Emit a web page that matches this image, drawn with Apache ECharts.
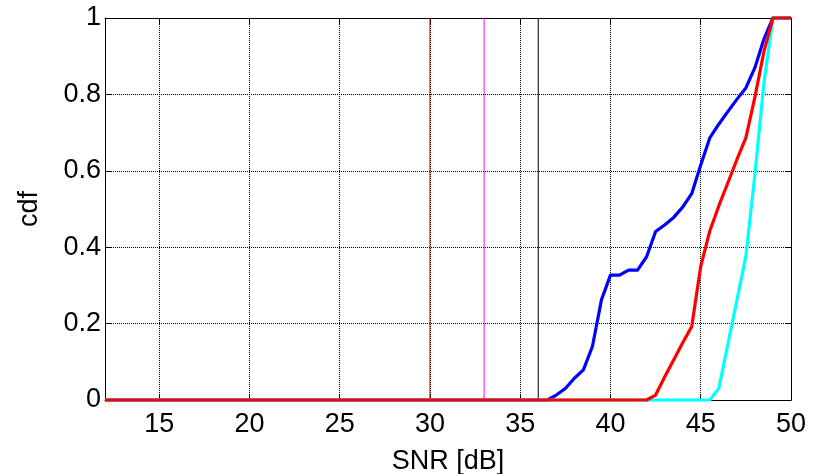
<!DOCTYPE html>
<html>
<head>
<meta charset="utf-8">
<script src="https://cdn.jsdelivr.net/npm/echarts@6/dist/echarts.min.js"></script>
<style>
  html, body { margin: 0; padding: 0; background: #fff; }
  #chart { width: 821px; height: 474px; }
</style>
</head>
<body>
<div id="chart"></div>
<script>
// Axis ticks
const xTicks = [15, 20, 25, 30, 35, 40, 45, 50];
const yTicks = [0, 0.2, 0.4, 0.6, 0.8, 1];

// Empirical CDF of SNR, blue curve
const snrBlue = [12, 36.5, 37, 37.5, 38, 38.5, 39, 39.5, 40, 40.5, 41, 41.5, 42, 42.5, 43, 43.5, 44, 44.5, 45, 45.5, 46, 46.5, 47, 47.5, 48, 48.5, 49, 50];
const cdfBlue = [0, 0, 0.013, 0.03, 0.057, 0.079, 0.14, 0.262, 0.327, 0.327, 0.34, 0.34, 0.375, 0.441, 0.458, 0.478, 0.505, 0.54, 0.615, 0.686, 0.722, 0.755, 0.787, 0.817, 0.87, 0.945, 1, 1];

// Cyan curve
const snrCyan = [12, 45.5, 46, 46.5, 47, 47.5, 48, 48.5, 49, 50];
const cdfCyan = [0, 0, 0.03, 0.145, 0.26, 0.376, 0.59, 0.83, 1, 1];

// Red curve
const snrRed = [12, 42, 42.5, 43, 43.5, 44, 44.5, 45, 45.5, 46, 46.5, 47, 47.5, 48, 48.5, 49, 50];
const cdfRed = [0, 0, 0.013, 0.06, 0.105, 0.15, 0.192, 0.35, 0.442, 0.508, 0.568, 0.629, 0.686, 0.793, 0.912, 1, 1];

// Vertical reference thresholds
const thresholds = [30, 33, 36];
const thresholdColors = ['#e00000', '#ff00ff', '#000000'];

const FONT = 'Liberation Sans, Arial, sans-serif';

const pairs = (xs, ys) => xs.map((x, i) => [x, ys[i]]);

const thresholdSeries = thresholds.map((t, i) => ({
  type: 'line',
  data: [[t, 0], [t, 1]],
  symbol: 'none',
  clip: false,
  silent: true,
  lineStyle: { color: thresholdColors[i], width: 1 },
  z: 2
}));

const curve = (xs, ys, color) => ({
  type: 'line',
  data: pairs(xs, ys),
  symbol: 'none',
  clip: false,
  lineStyle: { color: color, width: 3.2, join: 'round' },
  z: 3
});

const chart = echarts.init(document.getElementById('chart'), null, { renderer: 'canvas' });

chart.setOption({
  animation: false,
  backgroundColor: '#fff',
  grid: { left: 105, right: 30, top: 18, bottom: 74, containLabel: false, outerBoundsMode: 'none' },
  xAxis: [
    {
      type: 'value', min: 12, max: 50, position: 'bottom',
      name: 'SNR [dB]', nameLocation: 'middle', nameGap: 48,
      nameTextStyle: { fontFamily: FONT, fontSize: 27, color: '#000' },
      axisLine: { onZero: false, lineStyle: { color: '#000', width: 1 } },
      axisTick: { inside: true, length: 6, customValues: xTicks, lineStyle: { color: '#000' } },
      axisLabel: { customValues: xTicks, fontFamily: FONT, fontSize: 27, color: '#000', margin: 11 },
      splitLine: { show: true, lineStyle: { color: '#000', type: [1, 1], width: 1 } }
    },
    {
      type: 'value', min: 12, max: 50, position: 'top',
      axisLine: { onZero: false, lineStyle: { color: '#000', width: 1 } },
      axisTick: { inside: true, length: 6, customValues: xTicks, lineStyle: { color: '#000' } },
      axisLabel: { show: false },
      splitLine: { show: false }
    }
  ],
  yAxis: [
    {
      type: 'value', min: 0, max: 1, interval: 0.2, position: 'left',
      name: 'cdf', nameLocation: 'middle', nameGap: 62,
      nameTextStyle: { fontFamily: FONT, fontSize: 27, color: '#000' },
      axisLine: { show: true, onZero: false, lineStyle: { color: '#000', width: 1 } },
      axisTick: { show: true, inside: true, length: 6, lineStyle: { color: '#000' } },
      axisLabel: { fontFamily: FONT, fontSize: 27, color: '#000', margin: 4 },
      splitLine: { show: true, lineStyle: { color: '#000', type: [1, 1], width: 1 } }
    },
    {
      type: 'value', min: 0, max: 1, interval: 0.2, position: 'right',
      axisLine: { show: true, onZero: false, lineStyle: { color: '#000', width: 1 } },
      axisTick: { show: true, inside: true, length: 6, lineStyle: { color: '#000' } },
      axisLabel: { show: false },
      splitLine: { show: false }
    }
  ],
  series: [
    ...thresholdSeries,
    curve(snrBlue, cdfBlue, '#0000ff'),
    curve(snrCyan, cdfCyan, '#00ffff'),
    curve(snrRed, cdfRed, '#ff0000')
  ]
});
</script>
</body>
</html>
